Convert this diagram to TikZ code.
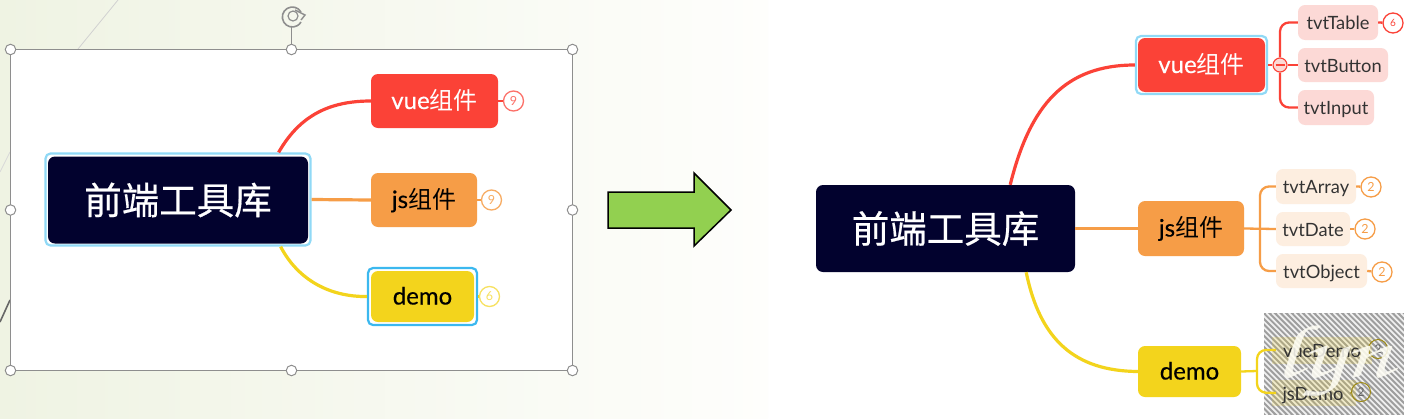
\documentclass[tikz,border=0pt]{standalone}
\usepackage{fontspec}
\setmainfont{Lato}
\newfontfamily\cjk{Noto Sans CJK SC}
\newfontfamily\cjkb[FakeBold=0.5]{Noto Sans CJK SC}
\newfontfamily\latm[FakeBold=0.35]{Lato}
\usetikzlibrary{calc}
\definecolor{rootc}{HTML}{02022E}
\definecolor{redc}{HTML}{FB4237}
\definecolor{orgc}{HTML}{F69D47}
\definecolor{yelc}{HTML}{F3D41C}
\definecolor{haloc}{HTML}{90D9F6}
\definecolor{selc}{HTML}{3BB8EF}
\definecolor{redl}{HTML}{FCD9D6}
\definecolor{orgl}{HTML}{FDEEE0}
\definecolor{handc}{HTML}{8E8E8E}
\definecolor{arrowc}{HTML}{92D050}
\definecolor{bgl}{HTML}{EFF3E3}
\definecolor{bgm}{HTML}{F9FAF3}
\definecolor{bgr}{HTML}{FEFEFC}
\tikzset{
  x=1pt,y=-1pt,
  boxn/.style={rectangle,rounded corners=7pt,inner sep=0pt,text=black},
  haloring/.style={boxn,draw=#1,fill=white,line width=2.2pt,rounded corners=5pt},
  rootn/.style={boxn,fill=rootc,text=white,font=\cjkb\fontsize{37.5}{37.5}\selectfont},
  mainn/.style={boxn,text height=20pt,text depth=4pt,font=\latm\fontsize{24}{24}\selectfont},
  kid/.style={boxn,text height=17pt,text depth=3pt,font=\fontsize{18.3}{19}\selectfont,text=black!80},
  badge/.style={circle,draw=#1,fill=white,line width=1.3pt,minimum size=20pt,inner sep=0pt,text=#1,font=\fontsize{12.5}{12.5}\selectfont},
  grip/.style={circle,draw=handc,fill=white,line width=1pt,minimum size=10.5pt,inner sep=0pt},
  bline/.style={line width=3.2pt,draw=#1},
  subline/.style={line width=2.3pt,draw=#1},
  thin branch/.style={line width=2.3pt,draw=#1,rounded corners=9pt},
}
\newcommand{\boxat}[6]{\node[#6,minimum width={(#4-#2)*1pt},minimum height={(#5-#3)*1pt}] at ({(#2+#4)/2},{(#3+#5)/2})}
\begin{document}
\begin{tikzpicture}
\useasboundingbox (0,0) rectangle (1404,418);
% backgrounds
\fill[white] (0,0) rectangle (1404,418);
\shade[left color=bgl,middle color=bgm,right color=bgr] (0,0) rectangle (768,418);
\draw[black!18,line width=.8pt] (118,0) -- (78,49);
\draw[black!15,line width=.8pt] (0,172) -- (10,152);
\draw[black!60,line width=1.6pt] (0,322) -- (10,300);
% selection frame
\draw[handc,line width=1pt,fill=white] (10.5,49.5) rectangle (572.5,370.5);
\node[grip] (h1) at (10.5,49.5) {};
\node[grip] (h2) at (291.5,49.5) {};
\node[grip] (h3) at (572.5,49.5) {};
\node[grip] (h4) at (10.5,210) {};
\node[grip] (h5) at (572.5,210) {};
\node[grip] (h6) at (10.5,370.5) {};
\node[grip] (h7) at (291.5,370.5) {};
\node[grip] (h8) at (572.5,370.5) {};
\coordinate (rot) at (291.5,27);
\draw[handc,line width=1pt] (rot) -- (h2);
\draw[handc,line width=1.6pt] (301,12) arc[start angle=30,end angle=330,radius=10pt];
\draw[handc,line width=1.2pt] (293,16) circle[radius=5pt];
\draw[handc,line width=1.4pt] (295,10) -- (305,15) -- (301,20);
% left mind map
\node[haloring=haloc,minimum width=265pt,minimum height=92pt] (a0h) at (178,199.5) {};
\boxat{}{371}{74}{498}{128}{mainn,fill=redc,text=white} (a1) {vue{\cjk 组件}};
\boxat{}{371}{173}{477}{227}{mainn,fill=orgc} (a2) {js{\cjk 组件}};
\boxat{}{368}{268}{477}{325}{haloring=selc} (a3h) {};
\boxat{}{371}{271}{474}{322}{mainn,fill=yelc} (a3) {demo};
\node[rootn,minimum width=260pt,minimum height=87pt] (a0) at (178,200) {前端工具库};
\node[badge=redc!75] (ab1) at (513.5,101) {9};
\node[badge=orgc!85] (ab2) at (491.5,200) {9};
\node[badge=yelc!70] (ab3) at (489.5,296.5) {6};
\draw[bline=redc] (a1.west) .. controls (330,101) and (300,115) .. ($(a0h.north east)+(-33,0)$);
\draw[bline=orgc] (a0h.east) -- (a2.west);
\draw[bline=yelc] (a3h.west) .. controls (330,297) and (298,280) .. ($(a0h.south east)+(-31,0)$);
\draw[subline=redc] (a1.east) -- (ab1);
\draw[subline=orgc] (a2.east) -- (ab2);
\draw[subline=yelc] (a3h.east) -- (ab3);
% arrow
\draw[black,line width=1.5pt,fill=arrowc,line join=miter]
  (608,192) -- (694,192) -- (694,173) -- (731,210) -- (694,246) -- (694,228) -- (608,228) -- cycle;
% watermark ground
\begin{scope}
\clip (1264,313) rectangle (1404,415);
\fill[black!38] (1264,313) rectangle (1404,415);
\foreach \i in {0,5.6,...,260}{
  \draw[white,line width=1.7pt,opacity=.85] (1160+\i,313) -- (1262+\i,415);
}
\fill[yelc,opacity=.18] (1272,337) rectangle (1372,364);
\fill[yelc,opacity=.18] (1272,380) rectangle (1356,406);
\end{scope}
% right mind map
\node[rootn,minimum width=259pt,minimum height=87pt] (b0) at (945.5,228.5) {前端工具库};
\boxat{}{1136}{36}{1267}{94}{haloring=haloc} (b1h) {};
\boxat{}{1138}{38}{1265}{92}{mainn,fill=redc,text=white} (b1) {vue{\cjk 组件}};
\boxat{}{1138}{201}{1244}{256}{mainn,fill=orgc} (b2) {js{\cjk 组件}};
\boxat{}{1138}{346}{1241}{397}{mainn,fill=yelc} (b3) {demo};
\draw[bline=redc] ($(b0.north east)+(-65,0)$) .. controls (1030,105) and (1065,65) .. (b1h.west);
\draw[bline=orgc] (b0.east) -- (b2.west);
\draw[bline=yelc] ($(b0.south east)+(-49,0)$) .. controls (1040,340) and (1075,371) .. (b3.west);
% kids of vue
\boxat{}{1298}{5}{1378}{40}{kid,fill=redl} (c1) {tvtTable};
\boxat{}{1298}{48}{1388}{82}{kid,fill=redl} (c2) {tvtButton};
\boxat{}{1298}{90}{1374}{125}{kid,fill=redl} (c3) {tvtInput};
\node[circle,draw=redc,fill=redl,line width=1.1pt,minimum size=14pt,inner sep=0pt] (cm) at (1280,65) {};
\draw[redc,line width=1.1pt] (1275.5,65) -- (1284.5,65);
\draw[thin branch=redc] (c1.west) -- (1280,22.5) -- (cm.north);
\draw[thin branch=redc] (c3.west) -- (1280,107.5) -- (cm.south);
\draw[subline=redc] (b1h.east) -- (cm.west);
\draw[subline=redc] (cm.east) -- (c2.west);
\node[badge=redc] (cb1) at (1393,23) {\fontsize{10}{10}\selectfont 6};
\draw[subline=redc] (c1.east) -- (cb1);
% kids of js
\boxat{}{1276}{169}{1356}{204}{kid,fill=orgl} (d1) {tvtArray};
\boxat{}{1276}{212}{1350}{246}{kid,fill=orgl} (d2) {tvtDate};
\boxat{}{1276}{254}{1367}{288}{kid,fill=orgl} (d3) {tvtObject};
\coordinate (dj) at (1260,229);
\draw[thin branch=orgc] (d1.west) -- (1260,186.5) -- (dj);
\draw[thin branch=orgc] (d3.west) -- (1260,271) -- (dj);
\draw[subline=orgc] (b2.east) -- (d2.west);
\node[badge=orgc] (db1) at (1371,187) {2};
\node[badge=orgc] (db2) at (1365,229) {2};
\node[badge=orgc] (db3) at (1382,272) {2};
\draw[subline=orgc] (d1.east) -- (db1);
\draw[subline=orgc] (d2.east) -- (db2);
\draw[subline=orgc] (d3.east) -- (db3);
% kids of demo
\boxat{}{1276}{336}{1368}{364}{kid} (e1) {vueDemo};
\boxat{}{1276}{380}{1350}{406}{kid} (e2) {jsDemo};
\coordinate (ej) at (1257,371);
\draw[thin branch=yelc] (e1.west) -- (1257,350) -- (ej);
\draw[thin branch=yelc] (e2.west) -- (1257,392.5) -- (ej);
\draw[subline=yelc] (b3.east) -- (ej);
\node[circle,draw=yelc!65!black,line width=1pt,minimum size=19pt,inner sep=0pt,text=black!60,font=\fontsize{12}{12}\selectfont] (eb1) at (1378,349) {2};
\node[circle,draw=yelc!65!black,line width=1pt,minimum size=19pt,inner sep=0pt,text=black!60,font=\fontsize{12}{12}\selectfont] (eb2) at (1361,392) {2};
\draw[line width=1.2pt,yelc!65!black] (e1.east) -- (eb1);
\draw[line width=1.2pt,yelc!65!black] (e2.east) -- (eb2);
% signature
\node[text=white!96!yellow,text opacity=.85,inner sep=0pt,xscale=1.4,transform shape,font=\fontsize{76}{76}\selectfont\usefont{OT1}{pzc}{mb}{it}] (sig) at (1334,362) {lyn};
\end{tikzpicture}
\end{document}
